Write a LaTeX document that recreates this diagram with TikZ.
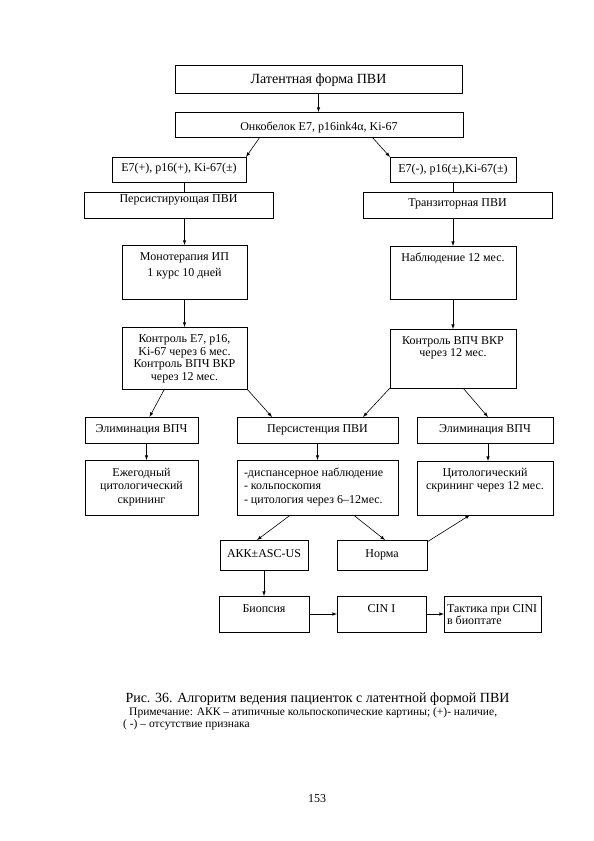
\documentclass[tikz,border=0pt]{standalone}
\usepackage{fontspec}
\setmainfont{Liberation Serif}
\usepackage{tikz}
\newcommand{\cell}[4][15.5pt]{\parbox[c][#3][t]{#2}{\vspace*{\dimexpr#1-9.45pt\relax}\centering\strut #4}}

\begin{document}
\begin{tikzpicture}[x=1pt,y=-1pt,font=\fontsize{12}{13.5}\selectfont,
  box/.style={draw,line width=0.6pt,anchor=north west,inner sep=0pt,outer sep=0pt},
  arr/.style={-latex,line width=0.6pt}]
\useasboundingbox (0,0) rectangle (594,841);
\node[box] (lat) at (175,65) {\cell[18.5pt]{287pt}{28pt}{\fontsize{14}{16}\selectfont Латентная форма ПВИ}};
\node[box] (onko) at (175,112) {\cell[18pt]{288pt}{25pt}{Онкобелок E7, p16ink4α, Ki-67}};
\node[box] (pos) at (112,157) {\cell[14pt]{134pt}{25pt}{E7(+), p16(+), Ki-67(±)}};
\node[box] (neg) at (390,157) {\cell[15pt]{126pt}{25pt}{E7(-), p16(±),Ki-67(±)}};
\node[box] (pers) at (84,192) {\cell[10pt]{189pt}{26pt}{Персистирующая ПВИ}};
\node[box] (trans) at (363,192) {\cell[14pt]{189pt}{26pt}{Транзиторная ПВИ}};
\node[box] (mono) at (122,245) {\cell{125pt}{54pt}{Монотерапия ИП\\[2pt]1 курс 10 дней}};
\node[box] (nabl) at (390,246) {\cell[15pt]{126pt}{53pt}{Наблюдение 12 мес.}};
\node[box] (kontrL) at (122,327) {\cell{125pt}{62pt}{Контроль E7, p16,\\[-1pt]Ki-67 через 6 мес.\\[-1pt]Контроль ВПЧ ВКР\\[-1pt]через 12 мес.}};
\node[box] (kontrR) at (390,329) {\cell[15pt]{126pt}{59pt}{Контроль ВПЧ ВКР\\[-1pt]через 12 мес.}};
\node[box] (elimL) at (85,417) {\cell{113pt}{26pt}{Элиминация ВПЧ}};
\node[box] (persist) at (237,417) {\cell{161pt}{26pt}{Персистенция ПВИ}};
\node[box] (elimR) at (417,417) {\cell{136pt}{26pt}{Элиминация ВПЧ}};
\node[box] (yearly) at (85,460) {\cell[16pt]{113pt}{55pt}{Ежегодный\\цитологический\\скрининг}};
\node[box] (disp) at (237,460) {\cell[16pt]{161pt}{55pt}{\raggedright\leftskip=7pt -диспансерное наблюдение\\- кольпоскопия\\- цитология через 6–12мес.}};
\node[box] (cyto) at (417,461) {\cell[15pt]{136pt}{54pt}{Цитологический\\скрининг через 12 мес.}};
\node[box] (akk) at (220,540) {\cell[17pt]{88pt}{30pt}{АКК±ASC-US}};
\node[box] (norma) at (337,540) {\cell[17pt]{90pt}{30pt}{Норма}};
\node[box] (biop) at (219,596) {\cell[16pt]{90pt}{36pt}{Биопсия}};
\node[box] (cin) at (337,596) {\cell[16pt]{89pt}{36pt}{CIN I}};
\node[box] (takt) at (444,596) {\cell[16pt]{97pt}{36pt}{\raggedright\leftskip=3pt Тактика при CINI\\[-1.5pt]в биоптате}};

\draw[arr] (lat.south) -- (lat.south |- onko.north);
\draw[arr] ([xshift=-59pt]onko.south) -- (pos.north east);
\draw[arr] ([xshift=53pt]onko.south) -- (neg.north west);
\draw[line width=0.6pt] (mono.north |- pos.south) -- (mono.north |- pers.north);
\draw[arr] (mono.north |- pers.south) -- (mono.north);
\draw[line width=0.6pt] (nabl.north |- neg.south) -- (nabl.north |- trans.north);
\draw[arr] (nabl.north |- trans.south) -- (nabl.north);
\draw[arr] (mono.south) -- (kontrL.north);
\draw[arr] (nabl.south) -- (kontrR.north);
\draw[arr] ([xshift=-20pt]kontrL.south) -- ([xshift=8pt]elimL.north);
\draw[arr] (kontrL.south east) -- ([xshift=35pt]persist.north west);
\draw[arr] (kontrR.south west) -- ([xshift=-35pt]persist.north east);
\draw[arr] ([xshift=10pt]kontrR.south) -- ([xshift=3pt]elimR.north);
\draw[arr] ([xshift=5pt]elimL.south) -- ([xshift=5pt]yearly.north);
\draw[arr] (persist.south) -- (disp.north);
\draw[arr] ([xshift=3pt]elimR.south) -- ([xshift=3pt]cyto.north);
\draw[arr] ([xshift=-27pt]disp.south) -- ([xshift=-7pt]akk.north);
\draw[arr] ([xshift=36pt]disp.south) -- ([xshift=3pt]norma.north);
\draw[arr] ([yshift=-2pt]norma.north east) -- ([xshift=-15pt]cyto.south);
\draw[arr] (akk.south) -- (akk.south |- biop.north);
\draw[arr] (biop.east) -- (cin.west);
\draw[arr] (cin.east) -- (takt.west);

\node[anchor=base,inner sep=0pt,font=\fontsize{14}{16}\selectfont] (caption) at (317.5,702) {Рис. 36. Алгоритм ведения пациенток с латентной формой ПВИ};
\node[anchor=base west,inner sep=0pt,font=\fontsize{11.5}{12}\selectfont] (note) at (129,715) {Примечание: АКК – атипичные кольпоскопические картины; (+)- наличие,};
\node[anchor=base west,inner sep=0pt,font=\fontsize{11.5}{12}\selectfont] (note2) at (123,727) {( -) – отсутствие признака};
\node[anchor=base,font=\fontsize{12}{14}\selectfont] (page) at (317,802) {153};
\end{tikzpicture}
\end{document}
